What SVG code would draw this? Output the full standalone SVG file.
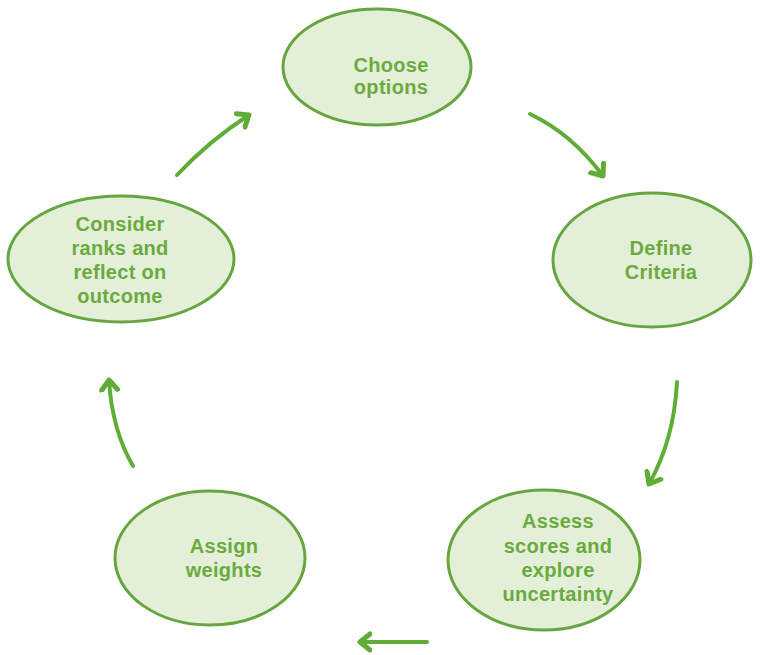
<svg xmlns="http://www.w3.org/2000/svg" width="766" height="655" viewBox="0 0 766 655">
<defs>
<style>
.node ellipse{fill:#e4efd9;stroke:#66a540;stroke-width:3}
.node text{font-family:"Liberation Sans",Arial,sans-serif;font-weight:bold;font-size:20px;letter-spacing:0.3px;fill:#6aab3e;text-anchor:middle}
.conn path{fill:none;stroke:#5fad37;stroke-width:4;stroke-linecap:round;marker-end:url(#ah)}
</style>
<marker id="ah" markerUnits="userSpaceOnUse" markerWidth="24" markerHeight="24" viewBox="-12 -12 24 24" refX="0" refY="0" orient="auto">
<path d="M-10,-8 L0,0 L-10,8" fill="none" stroke="#5fad37" stroke-width="5" stroke-linecap="round" stroke-linejoin="round"/>
</marker>
</defs>
<rect width="766" height="655" fill="#ffffff"/>
<g id="connectors" class="conn">
<path d="M530,114 Q572,134 603,176"/>
<path d="M677,382 Q674,440 649,484"/>
<path d="M427,642 L360,642"/>
<path d="M133,466 Q112,430 109,380"/>
<path d="M177,175 Q210,140 249,115"/>
</g>
<g id="choose" class="node">
<ellipse cx="377" cy="67" rx="94" ry="58"/>
<text x="391" y="72">Choose</text>
<text x="391" y="94">options</text>
</g>
<g id="define" class="node">
<ellipse cx="652" cy="260" rx="99" ry="67"/>
<text x="661" y="255">Define</text>
<text x="661" y="279">Criteria</text>
</g>
<g id="assess" class="node">
<ellipse cx="544" cy="560" rx="96" ry="70"/>
<text x="558" y="528">Assess</text>
<text x="558" y="553">scores and</text>
<text x="558" y="577">explore</text>
<text x="558" y="601">uncertainty</text>
</g>
<g id="assign" class="node">
<ellipse cx="210" cy="558" rx="95" ry="67"/>
<text x="224" y="553">Assign</text>
<text x="224" y="577">weights</text>
</g>
<g id="consider" class="node">
<ellipse cx="121" cy="259" rx="113" ry="63"/>
<text x="120" y="231">Consider</text>
<text x="120" y="255">ranks and</text>
<text x="120" y="279">reflect on</text>
<text x="120" y="303">outcome</text>
</g>
</svg>
